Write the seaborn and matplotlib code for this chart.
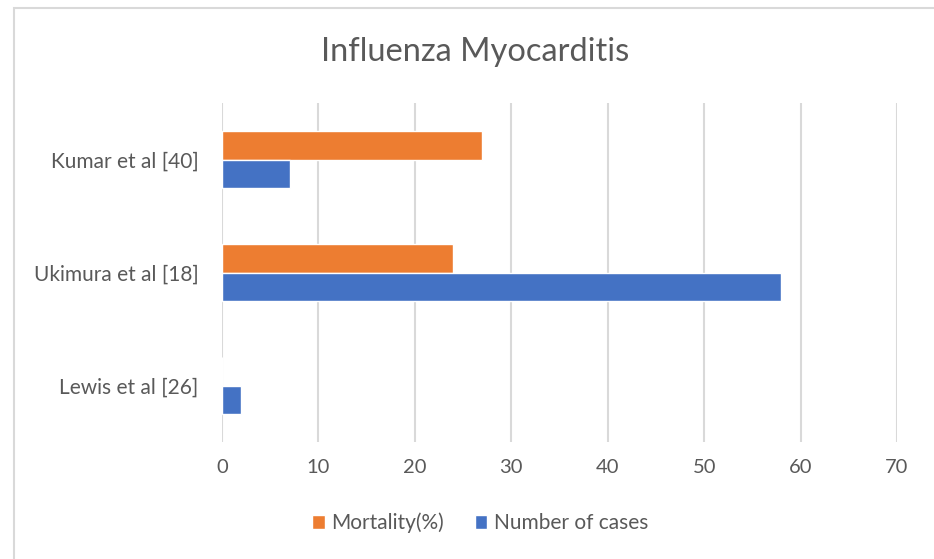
import matplotlib
matplotlib.use("Agg")
import matplotlib.pyplot as plt
import matplotlib.patches as mpatches
import seaborn as sns
import pandas as pd

studies = ["Kumar et al [40]", "Ukimura et al [18]", "Lewis et al [26]"]
mortality = [27, 24, 0]
cases = [7, 58, 2]
series_names = ["Mortality(%)", "Number of cases"]
xticks = [0, 10, 20, 30, 40, 50, 60, 70]

df = pd.DataFrame({
    "study": studies * 2,
    "value": mortality + cases,
    "series": [series_names[0]] * 3 + [series_names[1]] * 3,
})

sns.set_theme(style="white")
plt.rcParams["font.family"] = ["Lato", "DejaVu Sans"]
txt = "#595959"

fig = plt.figure(figsize=(9.34, 5.59), dpi=100)
ax = fig.add_axes([222 / 934, 1 - 442 / 559, (897 - 222) / 934, (442 - 103) / 559])

sns.barplot(data=df, x="value", y="study", hue="series", order=studies,
            hue_order=series_names, palette=["#ED7D31", "#4472C4"],
            width=0.51, orient="h", ax=ax, saturation=1, legend=True)

ax.set_xlim(0, 70)
ax.set_xticks(xticks)
ax.set_xticklabels([str(t) for t in xticks], color=txt, fontsize=14.5)
ax.tick_params(axis="x", length=0, pad=12)
ax.tick_params(axis="y", length=0, pad=17, labelsize=15, labelcolor=txt)
ax.grid(axis="x", color="#D9D9D9", linewidth=1.5)
ax.set_axisbelow(True)
for s in ax.spines.values():
    s.set_visible(False)
ax.set_xlabel("")
ax.set_ylabel("")

handles, labels = ax.get_legend_handles_labels()
ax.legend_.remove()
fig.legend(handles, labels, loc="center", bbox_to_anchor=(480 / 934, 1 - 523 / 559),
           ncol=2, frameon=False, fontsize=15, handlelength=0.6, handleheight=0.6,
           handletextpad=0.3, columnspacing=1.5, labelcolor=txt)

fig.text(475 / 934, 1 - 52 / 559, "Influenza Myocarditis", ha="center", va="center",
         fontsize=23.5, color=txt)

border = mpatches.Rectangle((14 / 934, -0.05), 1.0, 1 - 8 / 559 + 0.05,
                            transform=fig.transFigure, fill=False,
                            edgecolor="#D9D9D9", linewidth=1.5)
fig.patches.append(border)

fig.savefig("out.png", dpi=100)
